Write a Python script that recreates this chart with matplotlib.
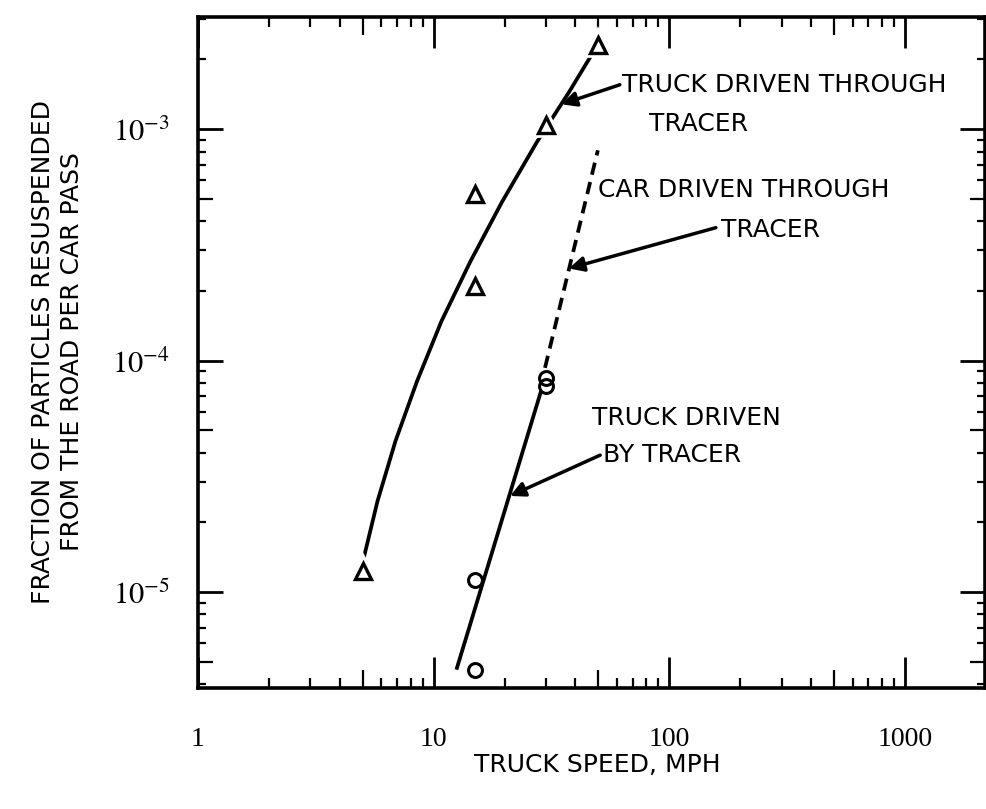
import numpy as np
import matplotlib
matplotlib.use("Agg")
import matplotlib.pyplot as plt
from matplotlib.ticker import FixedLocator, NullFormatter

# ---------------- data ----------------
# Truck driven through tracer (triangles)
tri_speed = [5, 15, 15, 30, 50]
tri_frac = [1.23e-5, 5.26e-4, 2.09e-4, 1.04e-3, 2.31e-3]

# Truck driven by tracer (circles)
circ_speed = [15, 15, 30, 30]
circ_frac = [1.13e-5, 4.6e-6, 8.4e-5, 7.8e-5]

# Drawn curve: truck driven through tracer (solid)
through_curve_x = [5.05, 5.78, 6.89, 8.50, 10.8, 14.3, 19.5, 27.4, 37.5, 46.8]
through_curve_y = [1.40e-5, 2.47e-5, 4.49e-5, 8.13e-5, 1.48e-4, 2.67e-4,
                   4.84e-4, 8.77e-4, 1.44e-3, 2.09e-3]

# Drawn line: truck driven by tracer (solid)
by_line_x = [12.5, 28.6]
by_line_y = [4.62e-6, 7.40e-5]

# Car driven through tracer (dashed)
car_line_x = [29.7, 49.8]
car_line_y = [9.3e-5, 8.1e-4]

x_ticks = [1, 10, 100, 1000]
x_tick_labels = ["1", "10", "100", "1000"]
y_ticks = [1e-5, 1e-4, 1e-3]
y_tick_labels = [r"$10^{-5}$", r"$10^{-4}$", r"$10^{-3}$"]

xlabel = "TRUCK SPEED, MPH"
ylabel = "FRACTION OF PARTICLES RESUSPENDED\nFROM THE ROAD PER CAR PASS"

# ---------------- style ----------------
plt.rcParams["mathtext.fontset"] = "stix"
SANS = ["DejaVu Sans"]
SERIF = ["Liberation Serif", "DejaVu Serif"]

fig = plt.figure(figsize=(9.87, 8.09), dpi=100)
ax = fig.add_axes([0.2006, 0.1496, 0.7974, 0.8294])
ax.set_xscale("log")
ax.set_yscale("log")
ax.set_xlim(1, 2190)
ax.set_ylim(3.85e-6, 3.05e-3)

for s in ax.spines.values():
    s.set_linewidth(2.6)

# lines
ax.plot(through_curve_x, through_curve_y, color="black", lw=2.7,
        solid_capstyle="butt", solid_joinstyle="round", zorder=2)
ax.plot(by_line_x, by_line_y, color="black", lw=2.7, solid_capstyle="butt", zorder=2)
ax.plot(car_line_x, car_line_y, color="black", lw=2.7, ls=(0, (3.3, 2.0)),
        dash_capstyle="butt", zorder=2)

# markers (white halo so lines break around them)
ax.plot(tri_speed, tri_frac, ls="none", marker="^", ms=11, mfc="white", mec="white",
        mew=7, zorder=3)
ax.plot(tri_speed, tri_frac, ls="none", marker="^", ms=11, mfc="white", mec="black",
        mew=2.4, zorder=4)
ax.plot(circ_speed, circ_frac, ls="none", marker="o", ms=10, mfc="none", mec="black",
        mew=2.2, zorder=4)

# ticks
ax.xaxis.set_major_locator(FixedLocator(x_ticks))
ax.set_xticklabels(x_tick_labels, fontsize=20, family=SERIF)
xminor = [m * d for d in [1, 10, 100] for m in range(2, 10)]
ax.xaxis.set_minor_locator(FixedLocator(xminor))
ax.xaxis.set_minor_formatter(NullFormatter())

ax.yaxis.set_major_locator(FixedLocator(y_ticks))
ax.set_yticklabels(y_tick_labels, fontsize=22)
yminor = [m * d for d in [1e-6, 1e-5, 1e-4, 1e-3] for m in range(2, 10)]
ax.yaxis.set_minor_locator(FixedLocator(yminor))
ax.yaxis.set_minor_formatter(NullFormatter())

ax.tick_params(axis="x", which="major", direction="in", top=True, bottom=True,
               length=22, width=2.0, pad=28)
ax.tick_params(axis="x", which="minor", direction="in", top=True, bottom=True,
               length=7, width=1.6)
ax.tick_params(axis="y", which="major", direction="in", left=True, right=True,
               length=18, width=2.0, pad=20)
ax.tick_params(axis="y", which="minor", direction="in", left=True, right=True,
               length=6, width=1.6)

# medium ticks at the "5" positions
fig.canvas.draw()
def is_five(v):
    e = np.floor(np.log10(v) + 1e-9)
    return abs(v / 10 ** e - 5) < 1e-6

for t in ax.xaxis.get_minor_ticks(len(xminor)):
    v = t.get_loc()
    if v is not None and is_five(v):
        t.tick1line.set_markersize(13)
        t.tick2line.set_markersize(13)
for t in ax.yaxis.get_minor_ticks(len(yminor)):
    v = t.get_loc()
    if v is not None and is_five(v):
        t.tick1line.set_markersize(11)
        t.tick2line.set_markersize(11)

# axis labels
fig.text(0.058, 0.565, ylabel, rotation=90, ha="center", va="center",
         fontsize=18, family=SANS, linespacing=1.25)
fig.text(0.605, 0.055, xlabel, ha="center", va="center", fontsize=18, family=SANS)

# annotations
arrow = dict(arrowstyle="-|>", lw=2.5, color="black", mutation_scale=22, shrinkA=0, shrinkB=0)
ax.annotate("", xy=(34.9, 1.28e-3), xytext=(0.536, 0.899), textcoords="axes fraction",
            arrowprops=arrow)
ax.text(0.539, 0.899, "TRUCK DRIVEN THROUGH", transform=ax.transAxes, ha="left", va="center",
        fontsize=18, family=SANS)
ax.text(0.636, 0.840, "TRACER", transform=ax.transAxes, ha="center", va="center",
        fontsize=18, family=SANS)

ax.annotate("", xy=(37.5, 2.5e-4), xytext=(0.658, 0.686), textcoords="axes fraction",
            arrowprops=arrow)
ax.text(0.508, 0.742, "CAR DRIVEN THROUGH", transform=ax.transAxes, ha="left", va="center",
        fontsize=18, family=SANS)
ax.text(0.665, 0.683, "TRACER", transform=ax.transAxes, ha="left", va="center",
        fontsize=18, family=SANS)

ax.annotate("", xy=(21.1, 2.6e-5), xytext=(0.511, 0.347), textcoords="axes fraction",
            arrowprops=arrow)
ax.text(0.50, 0.402, "TRUCK DRIVEN", transform=ax.transAxes, ha="left", va="center",
        fontsize=18, family=SANS)
ax.text(0.514, 0.347, "BY TRACER", transform=ax.transAxes, ha="left", va="center",
        fontsize=18, family=SANS)

fig.savefig("out.png", dpi=100)
